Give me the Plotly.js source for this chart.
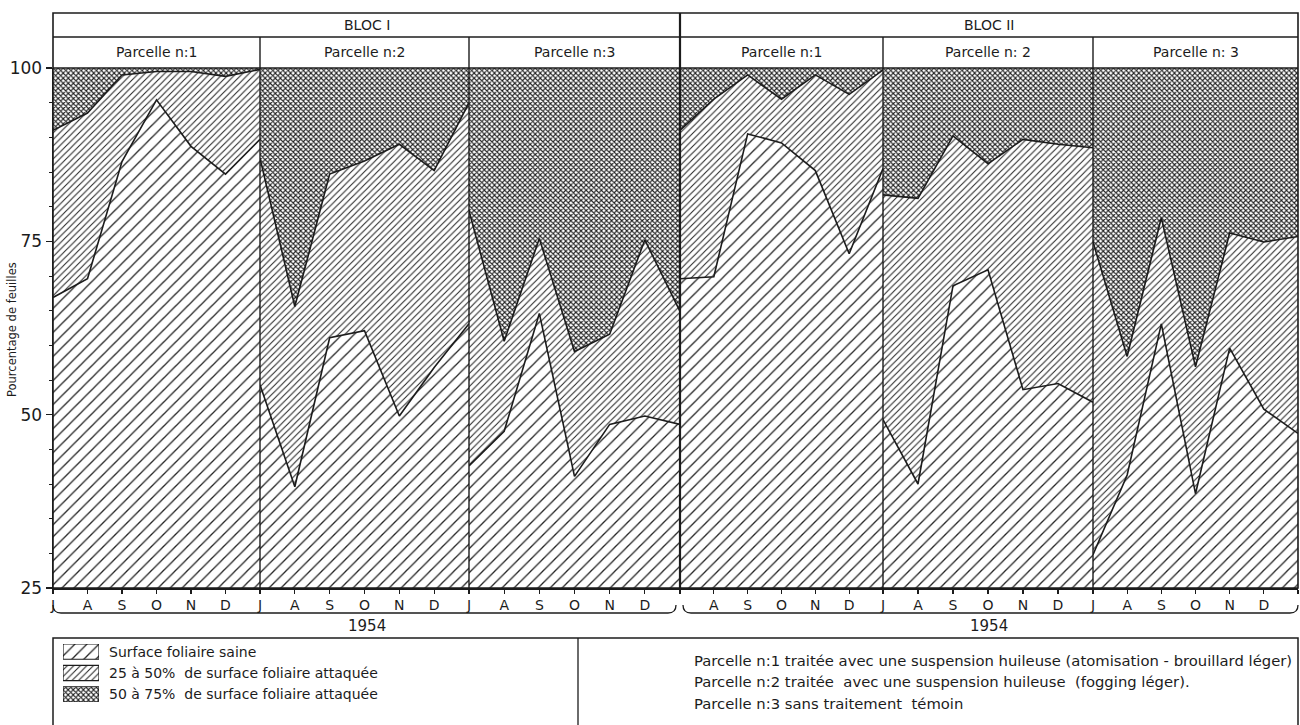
<!DOCTYPE html>
<html><head><meta charset="utf-8">
<script src="https://cdn.plot.ly/plotly-3.0.1.min.js"></script>
<style>html,body{margin:0;padding:0;background:#fff}#chart{width:1300px;height:725px}</style>
</head><body><div id="chart"></div>
<script>
// ---------------- DATA ----------------
const months = ['J','A','S','O','N','D','J'];
const blocs = ['BLOC I', 'BLOC II'];
const parcelles = ['Parcelle n:1', 'Parcelle n:2', 'Parcelle n:3', 'Parcelle n:1', 'Parcelle n: 2', 'Parcelle n: 3'];
const yearLabel = '1954';
const TOTAL = 100;
// lower line: surface foliaire saine (cumulative %)
const b1p1_saine = [66.9, 69.6, 86.5, 95.4, 88.7, 84.7, 89.7];
const b1p2_saine = [54.3, 39.6, 61.1, 62.1, 49.8, 56.8, 63.1];
const b1p3_saine = [42.6, 47.6, 64.6, 41.1, 48.6, 49.8, 48.6];
const b2p1_saine = [69.6, 69.9, 90.5, 89.2, 85.2, 73.2, 85.5];
const b2p2_saine = [49.3, 40.0, 68.6, 70.9, 53.6, 54.5, 51.8];
const b2p3_saine = [29.8, 41.3, 63.1, 38.6, 59.6, 50.8, 47.3];
// upper line: saine + 25 à 50% attaquée (cumulative %)
const b1p1_sup = [91.0, 93.5, 99.0, 99.5, 99.5, 98.8, 99.8];
const b1p2_sup = [87.0, 65.6, 84.7, 86.6, 89.0, 85.2, 95.0];
const b1p3_sup = [79.4, 60.6, 75.4, 59.1, 61.6, 75.2, 64.9];
const b2p1_sup = [91.0, 95.5, 99.0, 95.5, 99.0, 96.2, 99.7];
const b2p2_sup = [81.7, 81.2, 90.2, 86.2, 89.7, 89.0, 88.5];
const b2p3_sup = [74.9, 58.4, 78.4, 56.9, 76.2, 74.9, 75.7];
// which month ticks carry a label in each panel
const panelLabelIdx = [[0,1,2,3,4,5],[0,1,2,3,4,5],[0,1,2,3,4,5],[1,2,3,4,5,6],[1,2,3,4,5,6],[1,2,3,4,5]];
const legendLabels = ['Surface foliaire saine', '25 à 50%  de surface foliaire attaquée', '50 à 75%  de surface foliaire attaquée'];
const notes = [
  'Parcelle n:1 traitée avec une suspension huileuse (atomisation - brouillard léger)',
  'Parcelle n:2 traitée  avec une suspension huileuse  (fogging léger).',
  'Parcelle n:3 sans traitement  témoin'
];
const yTitle = 'Pourcentage de feuilles';

const sainePanels = [b1p1_saine, b1p2_saine, b1p3_saine, b2p1_saine, b2p2_saine, b2p3_saine];
const supPanels = [b1p1_sup, b1p2_sup, b1p3_sup, b2p1_sup, b2p2_sup, b2p3_sup];

// ---------------- STYLE / LAYOUT ----------------
const W = 1300, H = 725;
const X = p => p / W, Y = p => 1 - p / H;
const FONT = 'DejaVu Sans, Verdana, sans-serif';
const INK = '#1c1c1c';
const EDGES = [53, 260, 469, 680, 883, 1093, 1298];
const TOP = 13, HDR = 37, PTOP = 68, PBOT = 588;

const patterns = [
  {shape: '/', size: 8.5, solidity: 0.15, fgcolor: '#222222', bgcolor: '#ffffff'},
  {shape: '/', size: 4.6, solidity: 0.22, fgcolor: '#222222', bgcolor: '#ffffff'},
  {shape: 'x', size: 3.6, solidity: 0.52, fgcolor: '#222222', bgcolor: '#ffffff'}
];

const xIdx = months.map((m, i) => i);
const traces = [];
const layout = {
  width: W, height: H, autosize: false,
  margin: {l: 0, r: 0, t: 0, b: 0, pad: 0},
  paper_bgcolor: '#fff', plot_bgcolor: '#fff',
  showlegend: false,
  font: {family: FONT, color: INK},
  shapes: [], annotations: []
};

for (let k = 0; k < 6; k++) {
  const xa = 'x' + (k ? k + 1 : ''), ya = 'y' + (k ? k + 1 : '');
  const xName = 'xaxis' + (k ? k + 1 : ''), yName = 'yaxis' + (k ? k + 1 : '');
  const common = {xaxis: xa, yaxis: ya, x: xIdx, mode: 'lines', hoverinfo: 'skip', showlegend: false};
  traces.push(Object.assign({}, common, {y: sainePanels[k], fill: 'tozeroy', fillpattern: patterns[0],
    line: {color: INK, width: 1.6}}));
  traces.push(Object.assign({}, common, {y: supPanels[k], fill: 'tonexty', fillpattern: patterns[1],
    line: {color: INK, width: 1.6}}));
  traces.push(Object.assign({}, common, {y: months.map(() => TOTAL), fill: 'tonexty', fillpattern: patterns[2],
    line: {color: INK, width: 0}}));

  layout[xName] = {
    domain: [X(EDGES[k]), X(EDGES[k + 1])], anchor: ya, range: [0, 6],
    tickmode: 'array', tickvals: xIdx,
    ticktext: xIdx.map(i => panelLabelIdx[k].includes(i) ? months[i] : ''),
    ticks: 'outside', ticklen: 4, tickcolor: INK, tickwidth: 1.2,
    showline: true, linecolor: INK, linewidth: 1.5,
    showgrid: false, zeroline: false, fixedrange: true,
    tickfont: {size: 14, family: FONT, color: INK}
  };
  layout[yName] = {
    domain: [Y(PBOT), Y(PTOP)], anchor: xa, range: [25, 100],
    showgrid: false, zeroline: false, fixedrange: true,
    showline: false, showticklabels: false, ticks: ''
  };
}
Object.assign(layout.yaxis, {
  tickmode: 'array', tickvals: [25, 50, 75, 100], showticklabels: true,
  ticks: 'outside', ticklen: 6, tickwidth: 1.2, tickcolor: INK,
  minor: {dtick: 5, ticklen: 3, ticks: 'outside', tickcolor: INK, tickwidth: 1},
  showline: true, linecolor: INK, linewidth: 1.5,
  tickfont: {size: 17, family: FONT, color: INK}
});

// frame
const ln = (x0, y0, x1, y1, w) => ({type: 'line', xref: 'paper', yref: 'paper',
  x0: X(x0), y0: Y(y0), x1: X(x1), y1: Y(y1), line: {color: INK, width: w || 1.5}, layer: 'above'});
layout.shapes.push({type: 'rect', xref: 'paper', yref: 'paper', x0: X(EDGES[0]), x1: X(EDGES[6]),
  y0: Y(PBOT), y1: Y(TOP), line: {color: INK, width: 1.6}, layer: 'above'});
layout.shapes.push(ln(EDGES[0], HDR, EDGES[6], HDR));
layout.shapes.push(ln(EDGES[0], PTOP, EDGES[6], PTOP));
[1, 2, 4, 5].forEach(i => layout.shapes.push(ln(EDGES[i], HDR, EDGES[i], PBOT, 1.4)));
layout.shapes.push(ln(EDGES[3], TOP, EDGES[3], PBOT, 2.2));

// brackets under each bloc
const P = (x, y) => X(x).toFixed(5) + ',' + Y(y).toFixed(5);
[[EDGES[0], EDGES[3] - 4], [EDGES[3] + 3, EDGES[6]]].forEach(([a, b]) => {
  layout.shapes.push({type: 'path', xref: 'paper', yref: 'paper', layer: 'above',
    path: 'M' + P(a, 605) + ' Q' + P(a, 613) + ' ' + P(a + 8, 613) + ' L' + P(b - 8, 613) +
      ' Q' + P(b, 613) + ' ' + P(b, 605),
    line: {color: INK, width: 1.3}});
});

// legend box
layout.shapes.push({type: 'rect', xref: 'paper', yref: 'paper', x0: X(53), x1: X(1298),
  y0: Y(735), y1: Y(638), line: {color: INK, width: 1.5}});
layout.shapes.push(ln(578, 638, 578, 725, 1.3));

const ann = (text, x, y, size, anchor, extra) => Object.assign({text: text, xref: 'paper', yref: 'paper',
  x: X(x), y: Y(y), showarrow: false, xanchor: anchor || 'center', yanchor: 'middle',
  font: {size: size, family: FONT, color: INK}}, extra || {});

layout.annotations.push(ann(blocs[0], (EDGES[0] + EDGES[3]) / 2, 25, 14));
layout.annotations.push(ann(blocs[1], (EDGES[3] + EDGES[6]) / 2, 25, 14));
for (let k = 0; k < 6; k++) layout.annotations.push(ann(parcelles[k], (EDGES[k] + EDGES[k + 1]) / 2, 52, 14));
layout.annotations.push(ann(yearLabel, (EDGES[0] + EDGES[3]) / 2, 626, 15));
layout.annotations.push(ann(yearLabel, (EDGES[3] + EDGES[6]) / 2, 626, 15));
layout.annotations.push(ann(yTitle, 12, 330, 11.5, 'center', {textangle: -90}));

// legend swatches (own small subplot)
layout.xaxis7 = {domain: [X(63), X(99)], range: [0, 1], anchor: 'y7', visible: false, fixedrange: true};
layout.yaxis7 = {domain: [Y(702), Y(644)], range: [57, 0], anchor: 'x7', visible: false, fixedrange: true};
legendLabels.forEach((lab, i) => {
  traces.push({xaxis: 'x7', yaxis: 'y7', x: [0, 1, 1, 0, 0], y: [i * 21, i * 21, i * 21 + 15, i * 21 + 15, i * 21],
    mode: 'lines', fill: 'toself', fillpattern: patterns[i], line: {color: INK, width: 1.2},
    hoverinfo: 'skip', showlegend: false});
  layout.annotations.push(ann(lab, 107, 652 + i * 21, 14, 'left'));
});
notes.forEach((t, i) => layout.annotations.push(ann(t, 692, 660 + i * 21.5, 14.8, 'left')));

Plotly.newPlot('chart', traces, layout, {displayModeBar: false, staticPlot: true});
</script></body></html>
